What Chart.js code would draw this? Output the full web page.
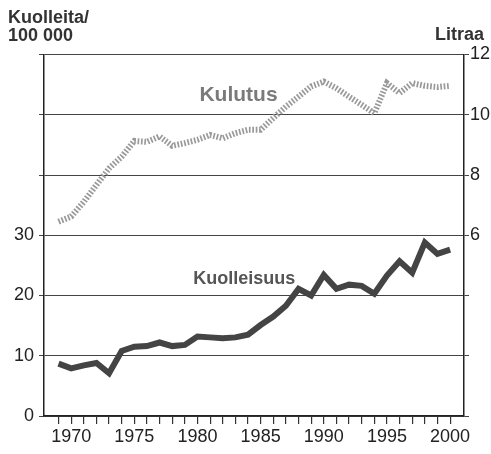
<!DOCTYPE html>
<html>
<head>
    <meta charset="utf-8">
    <script src="https://cdn.jsdelivr.net/npm/chart.js@4/dist/chart.umd.min.js"></script>
    <style>
        body { margin: 0; background: #fff; }
        #plot { display: block; }
    </style>
</head>
<body>
    <canvas id="plot" width="491" height="454"></canvas>
    <script>
        // vuodet 1969-2000
        var years = [1969, 1970, 1971, 1972, 1973, 1974, 1975, 1976, 1977, 1978, 1979,
            1980, 1981, 1982, 1983, 1984, 1985, 1986, 1987, 1988, 1989,
            1990, 1991, 1992, 1993, 1994, 1995, 1996, 1997, 1998, 1999, 2000]
        // kuolleita / 100 000 (vasen akseli)
        var kuolleisuus = [8.7, 7.9, 8.4, 8.8, 7.1, 10.8, 11.5, 11.6, 12.2, 11.6, 11.8,
            13.2, 13.05, 12.9, 13.05, 13.5, 15.1, 16.5, 18.3, 21.1, 20.0,
            23.4, 21.1, 21.8, 21.6, 20.3, 23.3, 25.7, 23.8, 28.8, 26.9, 27.6]
        // kulutus, litraa (oikea akseli)
        var kulutus = [6.45, 6.62, 7.11, 7.67, 8.22, 8.61, 9.13, 9.1, 9.28, 8.97, 9.06,
            9.17, 9.33, 9.22, 9.39, 9.5, 9.5, 9.89, 10.27, 10.6, 10.94,
            11.1, 10.88, 10.6, 10.33, 10.05, 11.05, 10.72, 11.05, 10.96, 10.92, 10.96]
        var leftTicks = [0, 10, 20, 30]
        var rightTicks = [6, 8, 10, 12]

        var FONT = 'Arial, Helvetica, sans-serif'

        function pts(vals) {
            var res = []
            for (var i = 0; i < years.length; i++) {
                res.push({ x: years[i], y: vals[i] })
            }
            return res
        }

        var textPlugin = {
            id: 'texts',
            beforeDatasetsDraw: function (chart) {
                var ctx = chart.ctx
                var x = chart.scales.x, y = chart.scales.y
                ctx.save()
                ctx.font = 'bold 21px ' + FONT
                ctx.fillStyle = '#7a7a7a'
                ctx.textAlign = 'center'
                ctx.textBaseline = 'alphabetic'
                ctx.fillText('Kulutus', x.getPixelForValue(1983.25), y.getPixelForValue(52.2))
                ctx.font = 'bold 18px ' + FONT
                ctx.fillStyle = '#555'
                ctx.fillText('Kuolleisuus', x.getPixelForValue(1983.7), y.getPixelForValue(21.9))
                ctx.restore()
            },
            afterDraw: function (chart) {
                var ctx = chart.ctx
                ctx.save()
                ctx.font = 'bold 18px ' + FONT
                ctx.fillStyle = '#333'
                ctx.textBaseline = 'alphabetic'
                ctx.textAlign = 'left'
                ctx.fillText('Kuolleita/', 8, 23)
                ctx.fillText('100 000', 8, 41)
                ctx.textAlign = 'right'
                ctx.fillText('Litraa', 484, 40)
                ctx.restore()
            }
        }

        var plot = new Chart(document.getElementById('plot'), {
            type: 'line',
            data: {
                datasets: [{
                    label: 'Kulutus',
                    data: pts(kulutus),
                    yAxisID: 'y2',
                    borderColor: '#999',
                    borderWidth: 6,
                    borderDash: [1.7, 1.7],
                    borderCapStyle: 'butt',
                    pointRadius: 0,
                    tension: 0,
                    fill: false
                }, {
                    label: 'Kuolleisuus',
                    data: pts(kuolleisuus),
                    yAxisID: 'y',
                    borderColor: '#444',
                    borderWidth: 6,
                    pointRadius: 0,
                    tension: 0,
                    fill: false
                }]
            },
            options: {
                responsive: false,
                animation: false,
                layout: { padding: { top: 54.5, left: 0, right: 0, bottom: 0 } },
                plugins: {
                    legend: { display: false },
                    tooltip: { enabled: false }
                },
                scales: {
                    x: {
                        type: 'linear',
                        min: 1967.85,
                        max: 2001.1,
                        afterBuildTicks: function (scale) {
                            scale.ticks = years.map(function (v) { return { value: v } })
                        },
                        afterFit: function (scale) { scale.height = 38 },
                        ticks: {
                            autoSkip: false,
                            maxRotation: 0,
                            padding: 2,
                            color: '#222',
                            font: { family: FONT, size: 18 },
                            callback: function (v) { return v % 5 == 0 ? String(v) : '' }
                        },
                        grid: {
                            drawOnChartArea: false,
                            drawTicks: true,
                            tickLength: 8,
                            color: '#333',
                            lineWidth: 1.2
                        },
                        border: { display: true, color: '#222', width: 1.5 }
                    },
                    y: {
                        position: 'left',
                        min: 0,
                        max: 60,
                        afterBuildTicks: function (scale) {
                            var t = []
                            for (var v = 0; v <= 60; v += 10) t.push({ value: v })
                            scale.ticks = t
                        },
                        afterFit: function (scale) { scale.width = 44 },
                        ticks: {
                            padding: 5,
                            color: '#222',
                            font: { family: FONT, size: 18 },
                            callback: function (v) { return leftTicks.indexOf(v) >= 0 ? String(v) : '' }
                        },
                        grid: {
                            drawOnChartArea: true,
                            tickLength: 5,
                            color: '#444',
                            lineWidth: 1
                        },
                        border: { display: true, color: '#222', width: 1.5 }
                    },
                    y2: {
                        position: 'right',
                        min: 0,
                        max: 12,
                        afterBuildTicks: function (scale) {
                            var t = []
                            for (var v = 0; v <= 12; v += 2) t.push({ value: v })
                            scale.ticks = t
                        },
                        afterFit: function (scale) { scale.width = 27 },
                        ticks: {
                            padding: 1,
                            color: '#222',
                            font: { family: FONT, size: 18 },
                            callback: function (v) { return rightTicks.indexOf(v) >= 0 ? String(v) : '' }
                        },
                        grid: {
                            drawOnChartArea: false,
                            tickLength: 5,
                            color: '#444',
                            lineWidth: 1
                        },
                        border: { display: true, color: '#222', width: 1.5 }
                    }
                }
            },
            plugins: [textPlugin]
        })
    </script>
</body>
</html>
